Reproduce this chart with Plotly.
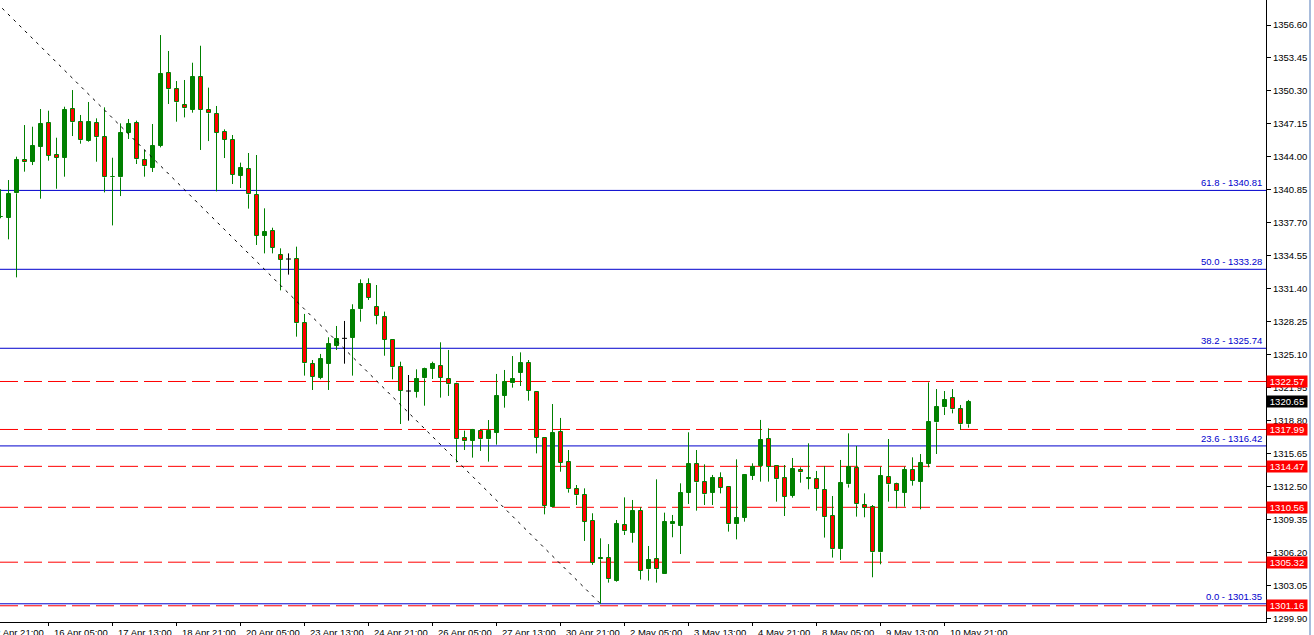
import plotly.graph_objects as go

# ---------------- data (H4 candles, bar index 0..121) ----------------
opens = [1338.28, 1338.21, 1340.53, 1343.71, 1343.55, 1344.98, 1347.21, 1344.19, 1343.94, 1348.55,
         1347.31, 1345.56, 1347.21, 1345.88, 1342.07, 1342.06, 1346.32, 1347.21, 1343.68, 1342.98,
         1345.05, 1351.98, 1350.46, 1348.93, 1348.48, 1351.63, 1348.48, 1348.10, 1346.38, 1345.62,
         1342.22, 1342.82, 1340.37, 1336.49, 1336.90, 1334.61, 1334.26, 1334.26, 1328.13, 1324.21,
         1322.94, 1324.27, 1325.96, 1326.69, 1326.76, 1329.46, 1331.88, 1329.71, 1328.69, 1326.53,
         1323.99, 1321.66, 1321.60, 1322.87, 1323.80, 1324.08, 1322.78, 1322.30, 1317.15, 1316.92,
         1317.84, 1317.05, 1317.69, 1321.22, 1322.40, 1323.41, 1324.30, 1321.54, 1317.15, 1310.62,
         1317.72, 1314.85, 1312.28, 1311.74, 1309.25, 1305.60, 1305.69, 1303.56, 1308.84, 1308.14,
         1310.21, 1304.64, 1305.59, 1304.23, 1308.94, 1308.81, 1311.96, 1314.66, 1312.94, 1311.96,
         1313.33, 1312.47, 1308.94, 1309.57, 1313.58, 1314.54, 1317.08, 1314.50, 1313.33, 1311.64,
         1314.12, 1313.31, 1313.23, 1312.21, 1309.73, 1306.55, 1312.75, 1314.28, 1310.78, 1310.56,
         1306.26, 1313.42, 1312.75, 1311.96, 1314.12, 1313.01, 1314.70, 1318.67, 1320.10, 1320.96,
         1319.91, 1318.48]
highs = [1340.92, 1341.80, 1344.03, 1347.05, 1346.89, 1348.58, 1348.42, 1345.84, 1348.80, 1350.39,
         1348.01, 1349.25, 1347.69, 1348.74, 1343.93, 1347.21, 1347.63, 1347.47, 1344.67, 1347.15,
         1355.64, 1354.12, 1351.25, 1351.35, 1353.00, 1354.62, 1350.62, 1348.87, 1346.64, 1346.10,
         1343.46, 1344.38, 1344.19, 1339.10, 1337.25, 1335.28, 1334.80, 1335.44, 1329.02, 1324.62,
         1325.20, 1326.79, 1327.87, 1328.35, 1329.94, 1332.32, 1332.42, 1331.78, 1329.24, 1326.53,
         1324.46, 1323.19, 1323.73, 1323.89, 1324.46, 1326.31, 1325.58, 1322.46, 1317.88, 1318.04,
         1318.00, 1318.89, 1323.29, 1323.67, 1325.00, 1325.35, 1324.62, 1321.54, 1317.15, 1320.42,
         1319.09, 1316.03, 1312.69, 1312.37, 1309.99, 1307.60, 1307.05, 1309.35, 1311.51, 1311.26,
         1310.56, 1306.87, 1313.23, 1310.05, 1309.83, 1312.85, 1317.72, 1316.03, 1314.66, 1313.65,
         1313.90, 1312.47, 1315.14, 1313.65, 1314.76, 1318.90, 1318.10, 1314.50, 1314.60, 1315.27,
         1314.38, 1316.67, 1314.03, 1314.51, 1311.64, 1315.08, 1317.62, 1316.41, 1311.89, 1310.78,
         1314.44, 1317.08, 1312.91, 1314.44, 1315.33, 1315.65, 1322.49, 1321.85, 1321.66, 1321.85,
         1320.33, 1320.81]
lows = [1338.15, 1336.14, 1332.51, 1342.60, 1343.23, 1340.02, 1343.65, 1340.97, 1342.12, 1346.00,
        1345.27, 1345.46, 1343.55, 1340.62, 1337.47, 1340.27, 1345.72, 1343.33, 1342.12, 1342.57,
        1344.92, 1349.06, 1347.37, 1347.78, 1348.23, 1344.67, 1345.52, 1340.72, 1343.90, 1341.42,
        1341.04, 1339.07, 1335.60, 1334.80, 1334.80, 1331.27, 1332.77, 1326.85, 1323.13, 1321.76,
        1322.78, 1321.76, 1325.58, 1324.27, 1323.13, 1328.28, 1330.35, 1328.03, 1325.03, 1322.78,
        1318.51, 1318.83, 1321.03, 1320.26, 1322.81, 1321.03, 1321.19, 1314.85, 1316.03, 1315.30,
        1315.94, 1314.92, 1316.54, 1320.07, 1321.98, 1322.14, 1320.74, 1315.71, 1309.89, 1310.62,
        1313.96, 1311.96, 1310.78, 1307.35, 1305.06, 1301.35, 1303.37, 1303.46, 1307.92, 1307.19,
        1303.66, 1303.56, 1303.37, 1304.23, 1307.70, 1306.10, 1310.88, 1310.24, 1310.78, 1310.78,
        1311.89, 1308.24, 1307.50, 1309.19, 1313.17, 1313.01, 1313.01, 1311.10, 1309.73, 1311.48,
        1312.91, 1312.28, 1310.24, 1307.67, 1305.76, 1305.53, 1312.44, 1309.67, 1309.61, 1303.88,
        1305.12, 1311.10, 1310.47, 1310.62, 1312.63, 1310.37, 1314.38, 1315.65, 1319.37, 1319.53,
        1317.94, 1318.16]
closes = [1338.30, 1340.47, 1343.71, 1343.49, 1345.05, 1347.15, 1344.12, 1343.94, 1348.48, 1347.31,
          1345.59, 1347.34, 1345.88, 1342.06, 1342.09, 1346.26, 1347.12, 1343.77, 1343.11, 1345.05,
          1351.92, 1350.46, 1349.22, 1348.64, 1351.63, 1348.48, 1348.17, 1346.32, 1345.65, 1342.31,
          1342.98, 1340.43, 1336.49, 1336.84, 1335.34, 1334.20, 1334.26, 1328.13, 1324.31, 1323.03,
          1324.72, 1326.12, 1326.63, 1326.69, 1329.40, 1331.88, 1330.58, 1328.82, 1326.53, 1323.92,
          1321.70, 1321.66, 1322.78, 1323.73, 1324.24, 1322.94, 1322.30, 1317.05, 1316.86, 1317.94,
          1317.05, 1317.88, 1321.19, 1322.49, 1322.81, 1324.30, 1321.70, 1317.21, 1310.69, 1317.62,
          1314.82, 1312.28, 1311.70, 1309.19, 1305.28, 1305.68, 1303.69, 1308.94, 1308.27, 1310.21,
          1304.51, 1305.53, 1304.64, 1309.13, 1309.13, 1311.89, 1314.66, 1312.94, 1311.80, 1313.33,
          1312.44, 1308.94, 1309.51, 1313.65, 1314.38, 1316.99, 1314.44, 1313.23, 1311.58, 1314.20,
          1313.90, 1313.35, 1312.28, 1309.61, 1306.55, 1312.85, 1314.38, 1310.85, 1310.53, 1306.26,
          1313.55, 1312.75, 1312.12, 1314.12, 1313.07, 1314.76, 1318.67, 1320.10, 1320.81, 1319.91,
          1318.48, 1320.65]

time_tick_index = [-2, 6, 14, 22, 30, 38, 46, 54, 62, 70, 78, 86, 94, 102, 110, 118]
time_tick_labels = ["12 Apr 21:00", "16 Apr 05:00", "17 Apr 13:00", "18 Apr 21:00", "20 Apr 05:00",
                    "23 Apr 13:00", "24 Apr 21:00", "26 Apr 05:00", "27 Apr 13:00", "30 Apr 21:00",
                    "2 May 05:00", "3 May 13:00", "4 May 21:00", "8 May 05:00", "9 May 13:00",
                    "10 May 21:00"]
price_ticks = [1356.60, 1353.45, 1350.30, 1347.15, 1344.00, 1340.85, 1337.70, 1334.55, 1331.40,
               1328.25, 1325.10, 1321.95, 1318.80, 1315.65, 1312.50, 1309.35, 1306.20, 1303.05, 1299.90]

fib_ratios = [0.0, 23.6, 38.2, 50.0, 61.8]
fib_prices = [1301.35, 1316.42, 1325.74, 1333.28, 1340.81]
sr_levels = [1322.57, 1317.99, 1314.47, 1310.56, 1305.32, 1301.16]
current_price = 1320.65
trend_start = (-9, 1365.20)   # fib 100% anchor (off screen)
trend_end = (75, 1301.35)     # fib 0% anchor

# ---------------- styling ----------------
GREEN = "#008000"
RED = "#FF0000"
BLUE = "#0000CD"
FONT = "Liberation Sans"
FS = 9.5
HALF = 0.3125

n = len(opens)
bx, bbase, bh, bfill = [], [], [], []
wx, wy = [], []
dx, dy = [], []
for i in range(n):
    o, h, l, c = opens[i], highs[i], lows[i], closes[i]
    if o == c:
        dx += [i, i, None, i - HALF, i + HALF, None]
        dy += [l, h, None, o, o, None]
        continue
    top, bot = max(o, c), min(o, c)
    bx.append(i)
    bbase.append(bot)
    bh.append(top - bot)
    bfill.append(GREEN if c > o else RED)
    wx += [i, i, None, i, i, None]
    wy += [h, top, None, bot, l, None]

fig = go.Figure()
fig.add_trace(go.Scatter(x=wx, y=wy, mode="lines", line=dict(color=GREEN, width=1),
                         hoverinfo="skip", showlegend=False))
fig.add_trace(go.Bar(x=bx, y=bh, base=bbase, width=0.5,
                     marker=dict(color=bfill, line=dict(color=GREEN, width=1)),
                     hoverinfo="skip", showlegend=False))
fig.add_trace(go.Scatter(x=dx, y=dy, mode="lines", line=dict(color="black", width=1),
                         hoverinfo="skip", showlegend=False))

shapes = []
for p in sr_levels:
    shapes.append(dict(type="line", xref="paper", x0=0, x1=1, yref="y", y0=p, y1=p,
                       line=dict(color=RED, width=1, dash="18px,6px"), layer="below"))
for p in fib_prices:
    shapes.append(dict(type="line", xref="paper", x0=0, x1=1, yref="y", y0=p, y1=p,
                       line=dict(color=BLUE, width=1), layer="below"))
shapes.append(dict(type="line", xref="x", yref="y", x0=trend_start[0], y0=trend_start[1],
                   x1=trend_end[0], y1=trend_end[1],
                   line=dict(color="black", width=1, dash="3px,5px"), layer="above"))
# window border at the right
shapes.append(dict(type="line", xref="paper", yref="paper", x0=1310 / 1266, x1=1310 / 1266,
                   y0=-0.05, y1=1.0, line=dict(color="#A8BCDC", width=2)))

annotations = []
for r, p in zip(fib_ratios, fib_prices):
    annotations.append(dict(xref="paper", x=1, xanchor="right", xshift=-2, yref="y", y=p,
                            yanchor="bottom", text=f"{r:.1f} - {p:.2f}", showarrow=False,
                            font=dict(family=FONT, size=FS, color=BLUE)))
for p in sr_levels:
    annotations.append(dict(xref="paper", x=1, xanchor="left", xshift=0, yref="y", y=p,
                            yanchor="middle", text=f"{p:.2f}", showarrow=False, width=40,
                            bgcolor=RED, borderpad=0, align="center",
                            font=dict(family=FONT, size=FS, color="white")))
annotations.append(dict(xref="paper", x=1, xanchor="left", xshift=0, yref="y", y=current_price,
                        yanchor="middle", text=f"{current_price:.2f}", showarrow=False, width=40,
                        bgcolor="black", borderpad=0, align="center",
                        font=dict(family=FONT, size=FS, color="white")))

x_lo, x_hi = -0.0625, -0.0625 + 1266 / 8
for t, lab in zip(time_tick_index, time_tick_labels):
    if t >= x_lo:
        annotations.append(dict(xref="x", x=t, xanchor="left", xshift=3, yref="paper", y=0,
                                yanchor="top", yshift=-3, text=lab, showarrow=False,
                                font=dict(family=FONT, size=FS, color="black")))
    else:
        annotations.append(dict(xref="paper", x=(t - x_lo) * 8 / 1266, xanchor="left", xshift=3,
                                yref="paper", y=0, yanchor="top", yshift=-3, text=lab,
                                showarrow=False, font=dict(family=FONT, size=FS, color="black")))

fig.update_layout(
    width=1314, height=635,
    margin=dict(l=0, r=48, t=0, b=13),
    paper_bgcolor="white", plot_bgcolor="white",
    showlegend=False, bargap=0,
    font=dict(family=FONT, size=FS, color="black"),
    shapes=shapes, annotations=annotations,
    xaxis=dict(range=[x_lo, x_hi], showgrid=False, zeroline=False, showline=True,
               linecolor="black", linewidth=1, ticks="outside", ticklen=3, tickcolor="black",
               tickvals=time_tick_index, ticktext=[""] * len(time_tick_index), fixedrange=True),
    yaxis=dict(side="right", range=[1299.612, 1358.986], showgrid=False, zeroline=False,
               showline=True, linecolor="black", linewidth=1, ticks="outside", ticklen=4,
               tickcolor="black", tickvals=price_ticks, ticktext=[f"{v:.2f}" for v in price_ticks],
               tickfont=dict(family=FONT, size=FS, color="black"), fixedrange=True),
)

fig.write_html("out.html", config={"displayModeBar": False},
               post_script="document.body.style.margin='0';document.body.style.overflow='hidden';")
